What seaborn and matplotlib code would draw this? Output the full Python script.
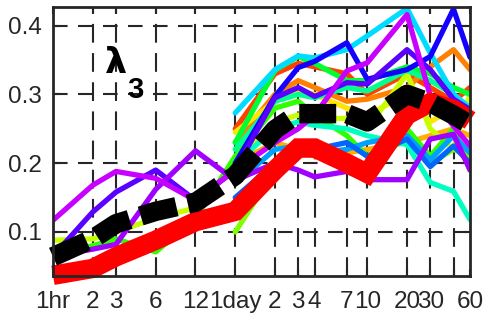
import numpy as np
import pandas as pd
import matplotlib
matplotlib.use("Agg")
import matplotlib.pyplot as plt
import seaborn as sns

nan = np.nan
hours = [1, 2, 3, 6, 12, 24, 48, 72, 96, 168, 240, 480, 720, 1080, 1440]
tick_labels = ['1hr', '2', '3', '6', '12', '1day', '2', '3', '4', '7', '10', '20', '30', '', '60']

s_orangered = [nan]*5 + [0.25, 0.33, 0.345, 0.34, 0.33, 0.30, 0.33, 0.31, 0.29, 0.31]
s_orange = [nan]*5 + [0.23, 0.30, 0.32, 0.31, 0.29, 0.293, 0.31, 0.34, 0.365, 0.336]
s_lightorange = [nan]*5 + [0.20, 0.23, 0.22, 0.21, 0.215, 0.22, 0.23, 0.24, 0.25, 0.24]
s_yellow = [nan]*5 + [0.245, 0.29, 0.305, 0.30, 0.28, 0.27, 0.30, 0.26, 0.28, 0.29]
s_yellowgreen = [0.088, 0.09, 0.10, 0.12, 0.135, 0.20, 0.26, 0.27, 0.265, 0.265, 0.25, 0.33, 0.25, 0.22, 0.30]
s_lime = [nan]*5 + [0.10, 0.19, 0.23, 0.22, 0.205, 0.19, 0.24, 0.20, 0.22, 0.21]
s_green = [0.07, 0.08, 0.09, 0.071, 0.12, 0.21, 0.28, 0.29, 0.27, 0.24, 0.21, 0.25, 0.21, 0.25, 0.19]
s_green2 = [nan]*5 + [0.23, 0.335, 0.355, 0.345, 0.32, 0.32, 0.34, 0.33, 0.31, 0.30]
s_spring = [nan]*5 + [0.22, 0.29, 0.30, 0.295, 0.31, 0.305, 0.335, 0.32, 0.30, 0.28]
s_aqua = [nan]*5 + [0.20, 0.25, 0.26, 0.255, 0.25, 0.24, 0.227, 0.172, 0.159, 0.118]
s_cyan = [nan]*5 + [0.273, 0.336, 0.356, 0.353, 0.365, 0.385, 0.425, 0.36, 0.30, 0.28]
s_skyblue = [nan]*5 + [0.17, 0.22, 0.225, 0.215, 0.22, 0.23, 0.24, 0.205, 0.24, 0.215]
s_dodger = [nan]*5 + [0.15, 0.20, 0.21, 0.22, 0.23, 0.21, 0.235, 0.195, 0.225, 0.20]
s_blue = [nan]*5 + [0.20, 0.297, 0.339, 0.348, 0.375, 0.322, 0.336, 0.355, 0.424, 0.354]
s_blueviolet = [0.065, 0.129, 0.158, 0.19, 0.146, 0.19, 0.295, 0.31, 0.297, 0.317, 0.315, 0.365, 0.336, 0.293, 0.278]
s_violet = [0.065, 0.075, 0.082, 0.162, 0.218, 0.175, 0.20, 0.19, 0.18, 0.188, 0.176, 0.176, 0.235, 0.242, 0.19]
s_magenta = [0.117, 0.168, 0.188, 0.178, 0.146, 0.19, 0.23, 0.25, 0.27, 0.334, 0.346, 0.416, 0.298, 0.254, 0.225]

mean_black = [0.064, 0.09, 0.112, 0.13, 0.143, 0.182, 0.249, 0.272, 0.272, 0.272, 0.26, 0.30, 0.288, 0.27, 0.256]
model_red = [0.037, 0.047, 0.064, 0.088, 0.115, 0.13, 0.19, 0.222, 0.222, 0.20, 0.185, 0.27, 0.288, 0.278, 0.262]

thin = [
    (s_orangered, '#ff4000'), (s_orange, '#ff8000'), (s_lightorange, '#ffb000'),
    (s_yellow, '#ffe600'), (s_yellowgreen, '#c8ff00'), (s_lime, '#80ff00'),
    (s_green, '#30ff00'), (s_green2, '#00ff30'), (s_spring, '#00ff90'),
    (s_aqua, '#00ffc0'), (s_cyan, '#00dcff'), (s_skyblue, '#00a0ff'),
    (s_dodger, '#0064ff'), (s_blue, '#1400ff'), (s_blueviolet, '#5a00ff'),
    (s_violet, '#a000ff'), (s_magenta, '#c800ff'),
]

sns.set_theme(style='white')
plt.rcParams['font.family'] = ['Liberation Sans Narrow', 'Liberation Sans', 'DejaVu Sans']

fig = plt.figure(figsize=(4.87, 3.21), dpi=100)
ax = fig.add_axes([53/487, 1-276/321, (470-53)/487, (276-7)/321])

dark = '#262626'
for yv in [0.1, 0.2, 0.3, 0.4]:
    ax.axhline(yv, color=dark, lw=1.5, ls=(0, (7, 5)), zorder=0.5)
for xv in hours[1:-1]:
    ax.axvline(xv, color=dark, lw=1.5, ls=(0, (9, 5)), zorder=0.5)

for vals, col in thin:
    df = pd.DataFrame({'t': hours, 'v': vals}).dropna()
    sns.lineplot(data=df, x='t', y='v', ax=ax, color=col, lw=3.8, zorder=2,
                 sort=False, estimator=None)

df_r = pd.DataFrame({'t': hours, 'v': model_red})
sns.lineplot(data=df_r, x='t', y='v', ax=ax, color='#ff0000', lw=14, zorder=3,
             sort=False, estimator=None, clip_on=False, solid_capstyle='butt',
             solid_joinstyle='miter')
df_b = pd.DataFrame({'t': hours, 'v': mean_black})
sns.lineplot(data=df_b, x='t', y='v', ax=ax, color='black', lw=14, zorder=4,
             sort=False, estimator=None, clip_on=False, ls=(0, (1.9, 0.6)),
             dash_capstyle='butt')

ax.set_xscale('log')
ax.set_xlim(1, 1440)
ax.set_ylim(0.036, 0.427)
ax.set_xticks(hours)
ax.set_xticklabels(tick_labels)
ax.xaxis.set_minor_locator(matplotlib.ticker.NullLocator())
ax.set_yticks([0.1, 0.2, 0.3, 0.4])
ax.set_yticklabels(['0.1', '0.2', '0.3', '0.4'])
ax.set_xlabel('')
ax.set_ylabel('')
ax.tick_params(axis='both', which='major', direction='in', length=5, width=1.5,
               colors=dark, labelcolor=dark, labelsize=17.5, top=True, right=True,
               bottom=True, left=True)
ax.tick_params(axis='x', pad=11)
ax.tick_params(axis='y', pad=8)
for sp in ax.spines.values():
    sp.set_color(dark)
    sp.set_linewidth(2)
    sp.set_zorder(5)

ax.text(0.125, 0.79, 'λ', transform=ax.transAxes, fontsize=25, fontweight='bold',
        color='black', family=['DejaVu Sans'], ha='left', va='center')
ax.text(0.178, 0.69, '3', transform=ax.transAxes, fontsize=21, fontweight='bold',
        color='black', family=['Liberation Sans', 'DejaVu Sans'], ha='left', va='center')

fig.savefig('out.png', dpi=100)
